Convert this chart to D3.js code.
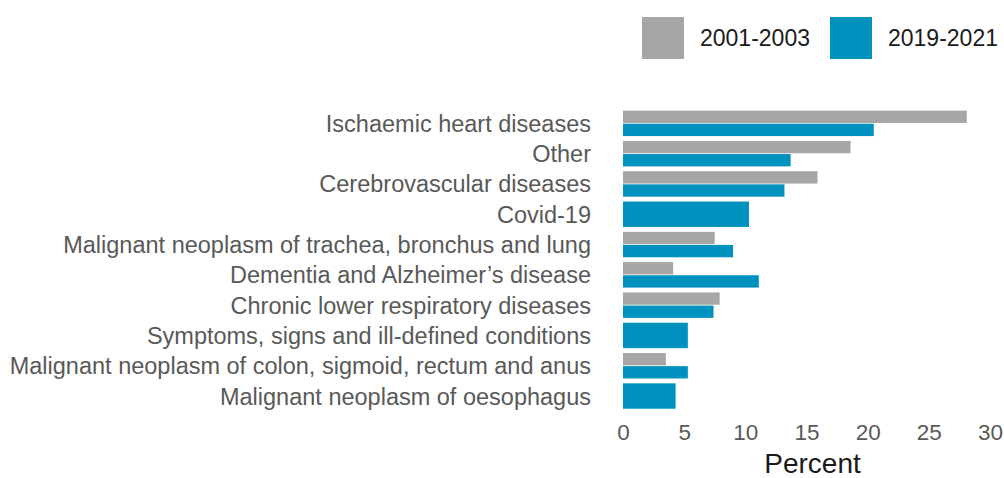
<!DOCTYPE html>
<meta charset="UTF-8">
<style>
  body { margin: 0; background: #fff; }
  text { font-family: "Liberation Sans", Arial, sans-serif; }
  .tick text { fill: #595959; }
</style>
<body>
<script src="https://d3js.org/d3.v7.min.js"></script>
<script>

// causes of death, top to bottom
var causes = [
  "Ischaemic heart diseases",
  "Other",
  "Cerebrovascular diseases",
  "Covid-19",
  "Malignant neoplasm of trachea, bronchus and lung",
  "Dementia and Alzheimer\u2019s disease",
  "Chronic lower respiratory diseases",
  "Symptoms, signs and ill-defined conditions",
  "Malignant neoplasm of colon, sigmoid, rectum and anus",
  "Malignant neoplasm of oesophagus"
];

var periods = ["2001-2003", "2019-2021"];

// percent of deaths (null = not in the top causes for that period)
var pct2001 = [28.1, 18.6, 15.9, null, 7.5, 4.1, 7.9, null, 3.5, null];
var pct2019 = [20.5, 13.7, 13.2, 10.3, 9.0, 11.1, 7.4, 5.3, 5.3, 4.3];

var xTicks = [0, 5, 10, 15, 20, 25, 30];

var colors = ["#a6a6a6", "#0092bf"];

var width = 1004, height = 478;
var svg = d3.select("body").append("svg")
    .attr("width", width)
    .attr("height", height);

var x = d3.scaleLinear().domain([0, 30]).range([623, 990]);

var y = d3.scaleBand()
    .domain(causes)
    .range([108.2, 411.2])
    .paddingInner(0.16)
    .paddingOuter(0.08);

var sub = d3.scaleBand().domain([0, 1]).range([0, y.bandwidth()]).paddingInner(0.06);

// bars
var rows = causes.map(function(c, i) {
  return { cause: c, values: [pct2001[i], pct2019[i]] };
});

var group = svg.selectAll("g.row")
    .data(rows)
  .enter().append("g")
    .attr("class", "row")
    .attr("transform", function(d) { return "translate(0," + y(d.cause) + ")"; });

group.each(function(d) {
  var g = d3.select(this);
  var both = d.values[0] != null && d.values[1] != null;
  d.values.forEach(function(v, k) {
    if (v == null) return;
    g.append("rect")
      .attr("x", x(0))
      .attr("y", both ? sub(k) : 0)
      .attr("width", x(v) - x(0))
      .attr("height", both ? sub.bandwidth() : y.bandwidth())
      .attr("fill", colors[k]);
  });
});

// category labels
var yAxis = svg.append("g")
    .attr("transform", "translate(603,1)")
    .call(d3.axisLeft(y).tickSize(0).tickPadding(12));
yAxis.select(".domain").remove();
yAxis.selectAll("text")
    .style("font-size", "23.5px")
    .style("font-family", "'Liberation Sans', Arial, sans-serif");

// x axis
var xAxis = svg.append("g")
    .attr("transform", "translate(0,421)")
    .call(d3.axisBottom(x).tickValues(xTicks).tickSize(0).tickPadding(3));
xAxis.select(".domain").remove();
xAxis.selectAll("text")
    .style("font-size", "22.5px")
    .style("font-family", "'Liberation Sans', Arial, sans-serif");

svg.append("text")
    .attr("x", x(15) + 6)
    .attr("y", 473)
    .attr("text-anchor", "middle")
    .style("font-size", "28px")
    .attr("fill", "#1a1a1a")
    .text("Percent");

// legend
var legendX = [642, 830];
var legend = svg.selectAll("g.legend")
    .data(periods)
  .enter().append("g")
    .attr("class", "legend")
    .attr("transform", function(d, i) { return "translate(" + legendX[i] + ",17)"; });

legend.append("rect")
    .attr("width", 42)
    .attr("height", 42)
    .attr("fill", function(d, i) { return colors[i]; });

legend.append("text")
    .attr("x", 58)
    .attr("y", 21)
    .attr("dy", "0.35em")
    .style("font-size", "23px")
    .attr("fill", "#1a1a1a")
    .text(function(d) { return d; });

</script>
</body>
